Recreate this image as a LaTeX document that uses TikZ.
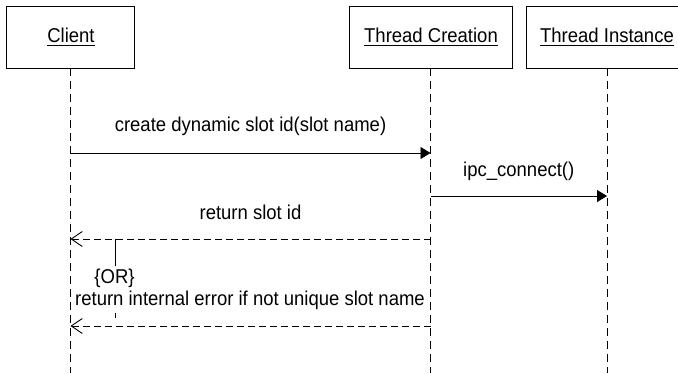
\documentclass[tikz,border=0pt]{standalone}
\usepackage{fontspec}
\setmainfont{Liberation Sans}
\newfontfamily\diagfont[FakeStretch=0.925]{Liberation Sans}
\usetikzlibrary{arrows.meta}
\begin{document}
\begin{tikzpicture}[x=1pt,y=-1pt, line width=0.9pt,
  objbox/.style={draw, minimum height=62pt, inner sep=0pt},
  txt/.style={inner sep=0pt, anchor=base, font=\diagfont\fontsize{20}{24}\selectfont},
  uline/.style={line width=1pt},
  lifeline/.style={dash pattern=on 8pt off 5pt},
  callmsg/.style={-{Triangle[length=10pt,width=12pt]}},
  retmsg/.style={dash pattern=on 7pt off 4pt, -{Straight Barb[length=11pt,width=15pt]}},
]
\clip (0,0) rectangle (678,373);
% objects
\node[objbox, minimum width=128pt] (client) at (70.5,37) {};
\node[objbox, minimum width=163pt] (creation) at (430.5,37) {};
\node[objbox, minimum width=162pt] (instance) at (607,37) {};
\node[txt] (clientT) at (71,42.5) {Client};
\node[txt] (creationT) at (431,42.5) {Thread Creation};
\node[txt] (instanceT) at (607,42.5) {Thread Instance};
\foreach \t in {clientT,creationT,instanceT}
  \draw[uline] ([yshift=-2.5pt]\t.base west) -- ([yshift=-2.5pt]\t.base east);
% lifelines
\coordinate (clientEnd) at (70.5,373);
\coordinate (creationEnd) at (430.5,373);
\coordinate (instanceEnd) at (607,373);
\draw[lifeline] (client.south) -- (clientEnd);
\draw[lifeline] (creation.south) -- (creationEnd);
\draw[lifeline] (instance.south) -- (instanceEnd);
% message 1
\coordinate (m1s) at (70.5,153);
\coordinate (m1e) at (430.5,153);
\draw[callmsg] (m1s) -- (m1e);
\node[txt] (l1) at (250.5,131) {create dynamic slot id(slot name)};
% message 2
\coordinate (m2s) at (430.5,196);
\coordinate (m2e) at (607,196);
\draw[callmsg] (m2s) -- (m2e);
\node[txt] (l2) at (518.75,176.5) {ipc\_connect()};
% return 1
\coordinate (r1s) at (430.5,239);
\coordinate (r1e) at (70.5,239);
\draw[retmsg] (r1s) -- (r1e);
\node[txt] (l3) at (250.5,219) {return slot id};
% return 2
\coordinate (r2s) at (430.5,326);
\coordinate (r2e) at (70.5,326);
\draw[retmsg] (r2s) -- (r2e);
\node[txt] (l4) at (250,305) {return internal error if not unique slot name};
% OR note
\node[txt] (or) at (114.5,283.5) {\{OR\}};
\coordinate (n1) at (115,239);
\coordinate (n2) at (115,266);
\coordinate (n3) at (115,313);
\coordinate (n4) at (115,318);
\draw (n1) -- (n2);
\draw (n3) -- (n4);
\end{tikzpicture}
\end{document}
